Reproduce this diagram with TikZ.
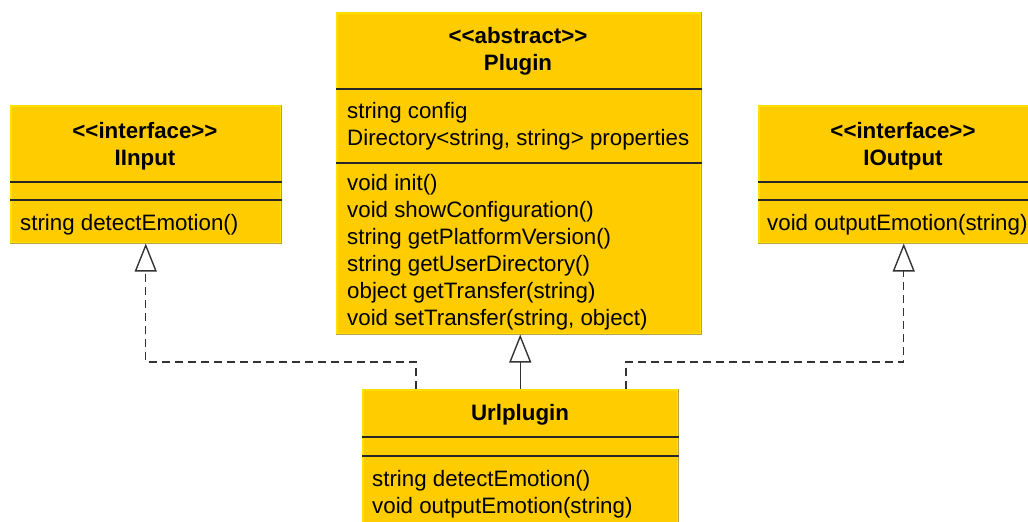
\documentclass[tikz,border=0pt]{standalone}
\usepackage{fontspec}
\setmainfont{Liberation Sans}
\usetikzlibrary{
		arrows.meta,
		positioning
	}
\definecolor{umlfill}{HTML}{FFCC00}
\definecolor{umlhi}{HTML}{FFE000}
\definecolor{umllo}{HTML}{B8A048}
\newcommand{\umlsize}{\fontsize{22.3pt}{27pt}\selectfont}
\tikzset{
		classbox/.style={fill=umlfill, draw=umlhi, line width=1.5pt, inner sep=0pt, anchor=north west},
		title/.style={font=\umlsize\bfseries, inner sep=0pt, anchor=base},
		member/.style={font=\umlsize, inner sep=0pt, anchor=base west},
		sep/.style={line width=1.4pt, black!85},
		inherit/.style={line width=1.4pt, black!80, -{Triangle[open, length=28pt, width=22pt]}},
		realize/.style={inherit, dash pattern=on 8pt off 5pt}
	}

\begin{document}
\begin{tikzpicture}[x=1pt, y=-1pt] % 1 unit = 1 px of the drawing, y grows downwards
		\useasboundingbox (0,0) rectangle (1028,522);
		% the four classes
		\node[classbox, minimum width=270pt, minimum height=137pt] (iinput) at (10,105) {};
		\node[classbox, minimum width=364pt, minimum height=321pt] (plugin) at (336,12) {};
		\node[classbox, minimum width=290pt, minimum height=137pt] (ioutput) at (758,105) {};
		\node[classbox, minimum width=315pt, minimum height=145pt] (urlplugin) at (362,389) {};
		\foreach \c in {iinput,plugin,ioutput,urlplugin}
		  \draw[umllo, line width=1.5pt] (\c.north east) -- (\c.south east) -- (\c.south west); % shadow edge
		% compartment lines (offsets from the top of each box)
		\foreach \c/\a/\b in {iinput/77/95, plugin/77/151, ioutput/77/95, urlplugin/48/67}{
		  \draw[sep] ([yshift=-\a pt]\c.north west) -- ([yshift=-\a pt]\c.north east);
		  \draw[sep] ([yshift=-\b pt]\c.north west) -- ([yshift=-\b pt]\c.north east);
		}
		% IInput
		\node[title] (iinput-st) at (145,138) {{<}{<}interface{>}{>}};
		\node[title] (iinput-nm) at (145,165) {IInput};
		\node[member] (iinput-m1) at (20,230) {string detectEmotion()};
		% Plugin
		\node[title] (plugin-st) at (518,43) {{<}{<}abstract{>}{>}};
		\node[title] (plugin-nm) at (518,70) {Plugin};
		\node[member] (plugin-a1) at (347,118) {string config};
		\node[member] (plugin-a2) at (347,145) {Directory{<}string, string{>} properties};
		\foreach \t [count=\i from 0] in {void init(), void showConfiguration(), string getPlatformVersion(),
		    string getUserDirectory(), object getTransfer(string), {void setTransfer(string, object)}}
		  \node[member] (plugin-m\i) at (347,190+27*\i) {\t};
		% IOutput
		\node[title] (ioutput-st) at (903,138) {{<}{<}interface{>}{>}};
		\node[title] (ioutput-nm) at (903,165) {IOutput};
		\node[member] (ioutput-m1) at (767,230) {void outputEmotion(string)};
		% Urlplugin
		\node[title] (urlplugin-nm) at (520,420) {Urlplugin};
		\node[member] (urlplugin-m1) at (372,486) {string detectEmotion()};
		\node[member] (urlplugin-m2) at (372,513) {void outputEmotion(string)};
		% relations
		\coordinate (toin) at ([xshift=54pt]urlplugin.north west);
		\coordinate (toout) at ([xshift=264pt]urlplugin.north west);
		\draw[realize] (toin) -- ++(0,-27) -| (iinput.south);
		\draw[realize] (toout) -- ++(0,-27) -| (ioutput.south);
		\draw[inherit] (urlplugin.north) -- (urlplugin.north |- plugin.south);
	\end{tikzpicture}
\end{document}
